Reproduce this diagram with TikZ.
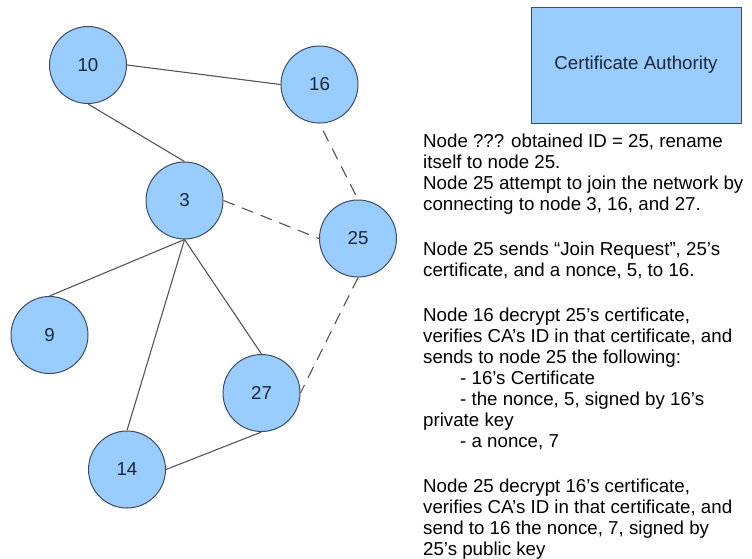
\documentclass[tikz,border=0pt]{standalone}
\usepackage{fontspec}
\setmainfont{Liberation Sans}
\definecolor{nodefill}{HTML}{99CCFF}
\definecolor{nodedraw}{HTML}{3F4C60}
\definecolor{nodetext}{HTML}{1C2838}
\definecolor{edgecol}{HTML}{555555}
\tikzset{
  peer/.style={circle, minimum size=77pt, inner sep=0pt, fill=nodefill, draw=nodedraw, line width=1pt, text=nodetext, font=\fontsize{18.7}{21}\selectfont},
  cabox/.style={rectangle, minimum width=210pt, minimum height=116pt, inner sep=0pt, fill=nodefill, draw=nodedraw, line width=1pt, text=nodetext, font=\fontsize{18.7}{21}\selectfont},
  link/.style={draw=edgecol, line width=1.1pt},
  trylink/.style={draw=edgecol, line width=1.1pt, dash pattern=on 12pt off 8pt},
  notes/.style={anchor=north west, align=left, inner sep=0pt, text=black, font=\fontsize{18.7}{21}\selectfont}
}
\begin{document}
\begin{tikzpicture}[x=1pt,y=-1pt]
\useasboundingbox (0,0) rectangle (752,558);
\node[peer] (n10) at (88,65) {10};
\node[peer] (n16) at (319.5,84.5) {16};
\node[peer] (n3) at (184.5,200.5) {3};
\node[peer] (n25) at (358,238.5) {25};
\node[peer] (n9) at (49.5,335) {9};
\node[peer] (n27) at (261.5,393) {27};
\node[peer] (n14) at (127,469.5) {14};
\node[cabox] (ca) at (636,65) {Certificate Authority};

\draw[link] (n10.east) -- (n16.west);
\draw[link] (n10.south) -- (n3.north);
\draw[link] (n3.south) -- (n9.north);
\draw[link] (n3.south) -- (n14.north);
\draw[link] (n3.south) -- (n27.north);
\draw[link] (n27.south) -- (n14.east);
\draw[trylink, dash phase=12pt] (n16.south) -- (n25.north);
\draw[trylink] (n3.east) -- (n25.west);
\draw[trylink] (n25.south) -- (n27.east);

\node[notes] (txt) at (423,132.3) {\strut Node ??? obtained ID = 25, rename\\
itself to node 25.\\
Node 25 attempt to join the network by\\
connecting to node 3, 16, and 27.\\[24pt]
Node 25 sends “Join Request”, 25's\\
certificate, and a nonce, 5, to 16.\\[24pt]
Node 16 decrypt 25's certificate,\\
verifies CA's ID in that certificate, and\\
sends to node 25 the following:\\
\hspace*{37pt}- 16's Certificate\\
\hspace*{37pt}- the nonce, 5, signed by 16's\\
private key\\
\hspace*{37pt}- a nonce, 7\\[24pt]
Node 25 decrypt 16's certificate,\\
verifies CA's ID in that certificate, and\\
send to 16 the nonce, 7, signed by\\
25's public key};
\end{tikzpicture}
\end{document}
